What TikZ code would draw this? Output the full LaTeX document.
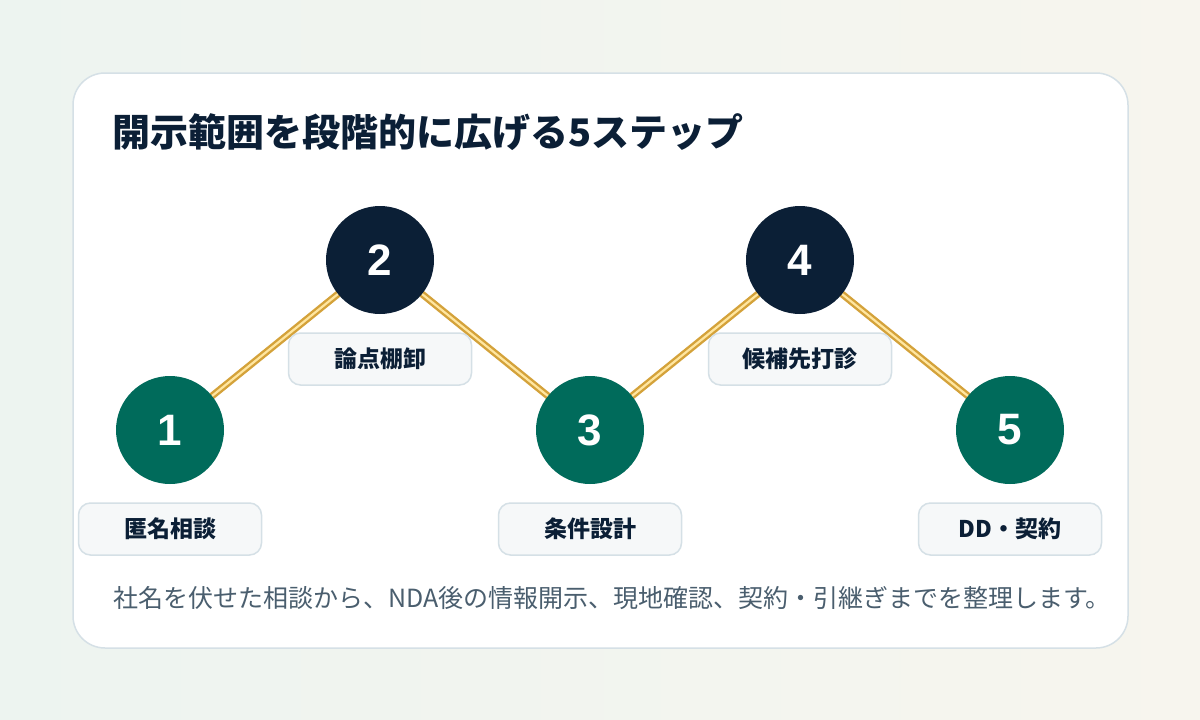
\documentclass[tikz,border=0pt]{standalone}
\usepackage{fontspec}
\setmainfont{Noto Sans CJK JP}
\newfontfamily\numfont{Liberation Sans}
\definecolor{navy}{HTML}{0B1F36}
\definecolor{teal}{HTML}{006B5B}
\definecolor{gold}{HTML}{D4A23A}
\definecolor{goldlt}{HTML}{FFE6A0}
\definecolor{cardbd}{HTML}{D5E0E6}
\definecolor{boxfill}{HTML}{F6F8F9}
\definecolor{sub}{HTML}{4A5E6E}
\definecolor{bgl}{HTML}{EDF4F0}
\definecolor{bgr}{HTML}{F7F5EE}
\begin{document}
\begin{tikzpicture}[x=1pt,y=-1pt,
  stepcirc/.style={circle,minimum size=108pt,inner sep=0pt,text=white,font=\numfont\fontsize{44}{46}\selectfont\bfseries},
  tealc/.style={stepcirc,fill=teal},
  navyc/.style={stepcirc,fill=navy},
  lbl/.style={draw=cardbd,line width=1.5pt,fill=boxfill,rounded corners=12pt,minimum width=183pt,minimum height=52pt,inner sep=0pt,text=navy,font=\fontsize{23}{25}\selectfont\bfseries},
  link/.style={line width=7pt,draw=gold},
  linkin/.style={line width=2.2pt,draw=goldlt}]
\useasboundingbox (0,0) rectangle (1200,720);
\shade[left color=bgl,right color=bgr] (0,0) rectangle (1200,720);
\draw[draw=cardbd,line width=1.5pt,fill=white,rounded corners=32pt] (73,73) rectangle (1128,648);
\node[anchor=west,text=navy,font=\fontsize{38}{42}\selectfont\bfseries,inner sep=0pt] (title) at (112,132) {開示範囲を段階的に広げる5ステップ};
\coordinate (p1) at (170,430);
\coordinate (p2) at (380,260);
\coordinate (p3) at (590,430);
\coordinate (p4) at (800,260);
\coordinate (p5) at (1010,430);
\foreach \a/\b in {p1/p2,p2/p3,p3/p4,p4/p5}{
  \draw[link] (\a) -- (\b);
  \draw[linkin] (\a) -- (\b);
}
\node[tealc] (c1) at (p1) {1};
\node[navyc] (c2) at (p2) {2};
\node[tealc] (c3) at (p3) {3};
\node[navyc] (c4) at (p4) {4};
\node[tealc] (c5) at (p5) {5};
\node[lbl] (l1) at (170,529) {匿名相談};
\node[lbl] (l2) at (380,359) {論点棚卸};
\node[lbl] (l3) at (590,529) {条件設計};
\node[lbl] (l4) at (800,359) {候補先打診};
\node[lbl] (l5) at (1010,529) {DD・契約};
\node[anchor=west,text=sub,font=\fontsize{25}{28}\selectfont,inner sep=0pt] (foot) at (113,598) {社名を伏せた相談から、NDA後の情報開示、現地確認、契約・引継ぎまでを整理します。};
\end{tikzpicture}
\end{document}
